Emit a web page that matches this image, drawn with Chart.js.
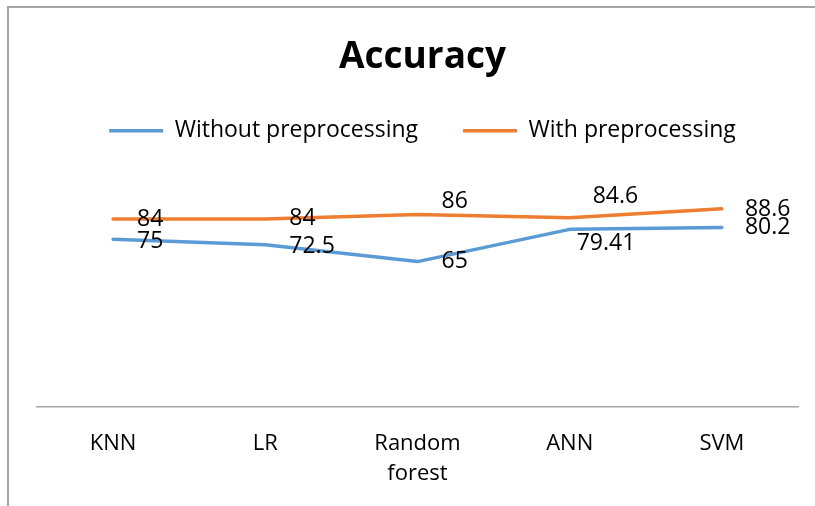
<!DOCTYPE html>
<html>
<head>
<meta charset="utf-8">
<script src="https://cdn.jsdelivr.net/npm/chart.js@4/dist/chart.umd.min.js"></script>
<style>
  html, body { margin: 0; padding: 0; background: #fff; overflow: hidden; }
  #chart { display: block; }
</style>
</head>
<body>
<canvas id="chart" width="815" height="506"></canvas>
<script>
'use strict';

// chart data
const categories = ['KNN', 'LR', ['Random', 'forest'], 'ANN', 'SVM'];
const withoutPreprocessing = [75, 72.5, 65, 79.41, 80.2];
const withPreprocessing = [84, 84, 86, 84.6, 88.6];
const seriesNames = ['Without preprocessing', 'With preprocessing'];

const FONT = 'Open Sans';

// where each value label sits, relative to its point (px)
const labelShift = [
    { dx: [24, 24, 24, 7, 23], dy: [2, 1.5, 0, 14, 0] },
    { dx: [24, 24, 24, 23, 23], dy: [0, -0.5, -13, -21.5, 1] }
];

// grey frame of the chart object (runs off the right and bottom edges)
const framePlugin = {
    id: 'frame',
    beforeDraw(chart) {
        const ctx = chart.ctx;
        ctx.save();
        ctx.fillStyle = '#fff';
        ctx.fillRect(0, 0, chart.width, chart.height);
        ctx.strokeStyle = '#a6a6a6';
        ctx.lineWidth = 2;
        ctx.beginPath();
        ctx.moveTo(8, chart.height + 5);
        ctx.lineTo(8, 7);
        ctx.lineTo(chart.width + 5, 7);
        ctx.stroke();
        ctx.restore();
    }
};

// value labels next to the points
const valueLabels = {
    id: 'valueLabels',
    afterDatasetsDraw(chart) {
        const ctx = chart.ctx;
        ctx.save();
        ctx.font = '23px "' + FONT + '"';
        ctx.fillStyle = '#000';
        ctx.textAlign = 'left';
        ctx.textBaseline = 'middle';
        chart.data.datasets.forEach(function (ds, i) {
            const meta = chart.getDatasetMeta(i);
            const shift = labelShift[i];
            meta.data.forEach(function (pt, j) {
                ctx.fillText(String(ds.data[j]), pt.x + shift.dx[j], pt.y + shift.dy[j]);
            });
        });
        ctx.restore();
    }
};

const chartData = {
    type: 'line',
    data: {
        labels: categories,
        datasets: [{
            label: seriesNames[0],
            data: withoutPreprocessing,
            borderColor: '#5B9BD5',
            backgroundColor: '#5B9BD5',
            borderWidth: 3.5,
            pointRadius: 0,
            pointStyle: 'line',
            tension: 0,
            borderJoinStyle: 'round',
            borderCapStyle: 'round'
        }, {
            label: seriesNames[1],
            data: withPreprocessing,
            borderColor: '#ED7D31',
            backgroundColor: '#ED7D31',
            borderWidth: 3.5,
            pointRadius: 0,
            pointStyle: 'line',
            tension: 0,
            borderJoinStyle: 'round',
            borderCapStyle: 'round'
        }]
    },
    options: {
        responsive: false,
        animation: false,
        devicePixelRatio: 1,
        layout: {
            padding: { top: 0, left: 37, right: 7, bottom: 0 }
        },
        plugins: {
            title: {
                display: true,
                text: 'Accuracy',
                color: '#000',
                font: { family: FONT, size: 37, weight: 'bold', lineHeight: 0.9 },
                padding: { top: 41, bottom: 0 }
            },
            legend: {
                display: true,
                position: 'top',
                labels: {
                    usePointStyle: true,
                    pointStyle: 'line',
                    pointStyleWidth: 54,
                    color: '#000',
                    font: { family: FONT, size: 23 },
                    padding: 45
                }
            },
            tooltip: { enabled: false }
        },
        scales: {
            x: {
                offset: true,
                grid: { display: false, drawTicks: false },
                border: { display: true, color: '#a6a6a6', width: 1.5 },
                ticks: {
                    color: '#000',
                    font: { family: FONT, size: 22, lineHeight: 1.4 },
                    padding: 21,
                    maxRotation: 0,
                    autoSkip: false
                },
                afterFit: function (scale) { scale.height = 99; }
            },
            // empty band between the legend and the plot
            xTop: {
                axis: 'x',
                type: 'category',
                position: 'top',
                grid: { display: false },
                border: { display: false },
                ticks: { display: false },
                afterFit: function (scale) { scale.height = 31; }
            },
            y: {
                position: 'right',
                min: 0,
                max: 100,
                grid: { display: false },
                border: { display: false },
                ticks: { display: false },
                afterFit: function (scale) { scale.width = 10; }
            }
        }
    },
    plugins: [framePlugin, valueLabels]
};

function createChart(chartId, cfg) {
    return new Chart(document.getElementById(chartId), {
        type: cfg.type,
        data: cfg.data,
        options: cfg.options,
        plugins: cfg.plugins
    });
}

createChart('chart', chartData);
</script>
</body>
</html>
